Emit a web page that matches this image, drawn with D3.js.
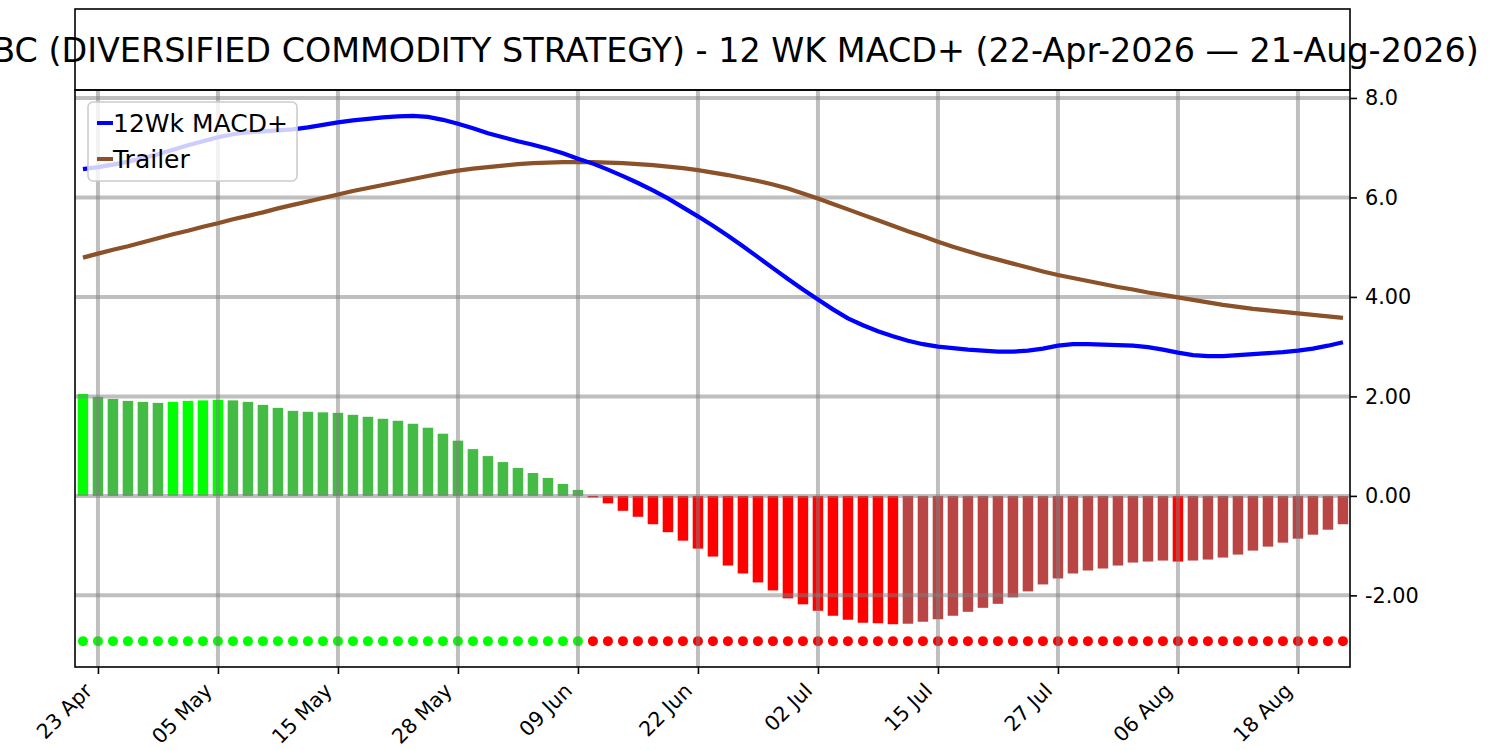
<!DOCTYPE html>
<html>
<head>
<meta charset="utf-8">
<script src="https://cdn.jsdelivr.net/npm/d3@7"></script>
<style>
body{margin:0;background:#fff;}
text{font-family:"DejaVu Sans",sans-serif;fill:#000;}
</style>
</head>
<body>
<div id="chart"></div>
<script>
// trading days shown on the chart
var dates = [
	"2026-04-22","2026-04-23","2026-04-24","2026-04-27","2026-04-28","2026-04-29","2026-04-30","2026-05-01",
	"2026-05-04","2026-05-05","2026-05-06","2026-05-07","2026-05-08","2026-05-11","2026-05-12","2026-05-13",
	"2026-05-14","2026-05-15","2026-05-18","2026-05-19","2026-05-20","2026-05-21","2026-05-22","2026-05-26",
	"2026-05-27","2026-05-28","2026-05-29","2026-06-01","2026-06-02","2026-06-03","2026-06-04","2026-06-05",
	"2026-06-08","2026-06-09","2026-06-10","2026-06-11","2026-06-12","2026-06-15","2026-06-16","2026-06-17",
	"2026-06-18","2026-06-22","2026-06-23","2026-06-24","2026-06-25","2026-06-26","2026-06-29","2026-06-30",
	"2026-07-01","2026-07-02","2026-07-06","2026-07-07","2026-07-08","2026-07-09","2026-07-10","2026-07-13",
	"2026-07-14","2026-07-15","2026-07-16","2026-07-17","2026-07-20","2026-07-21","2026-07-22","2026-07-23",
	"2026-07-24","2026-07-27","2026-07-28","2026-07-29","2026-07-30","2026-07-31","2026-08-03","2026-08-04",
	"2026-08-05","2026-08-06","2026-08-07","2026-08-10","2026-08-11","2026-08-12","2026-08-13","2026-08-14",
	"2026-08-17","2026-08-18","2026-08-19","2026-08-20","2026-08-21"];

var histogram = [
	2.05,1.99,1.95,1.91,1.89,1.87,1.89,1.91,1.92,1.93,1.92,1.89,1.83,1.77,1.71,1.69,1.68,1.67,1.63,1.59,
	1.55,1.51,1.45,1.37,1.25,1.11,0.94,0.80,0.68,0.56,0.46,0.36,0.24,0.12,-0.03,-0.15,-0.30,-0.42,-0.57,-0.73,
	-0.90,-1.06,-1.22,-1.40,-1.56,-1.74,-1.90,-2.06,-2.18,-2.31,-2.41,-2.49,-2.55,-2.56,-2.58,-2.57,-2.53,-2.48,-2.41,-2.33,
	-2.25,-2.17,-2.04,-1.92,-1.78,-1.66,-1.56,-1.50,-1.46,-1.40,-1.34,-1.32,-1.30,-1.32,-1.30,-1.28,-1.24,-1.18,-1.10,-1.02,
	-0.94,-0.86,-0.78,-0.68,-0.57];

var macd = [
	6.57,6.61,6.66,6.72,6.79,6.87,6.96,7.05,7.13,7.21,7.27,7.31,7.33,7.35,7.37,7.41,7.46,7.51,7.55,7.58,
	7.61,7.63,7.64,7.62,7.56,7.48,7.39,7.29,7.21,7.13,7.06,6.98,6.89,6.78,6.68,6.56,6.43,6.29,6.14,5.98,
	5.80,5.62,5.43,5.23,5.02,4.80,4.58,4.36,4.15,3.95,3.75,3.57,3.43,3.31,3.21,3.12,3.05,3.00,2.97,2.94,
	2.92,2.90,2.90,2.92,2.96,3.02,3.05,3.05,3.04,3.03,3.02,2.99,2.94,2.88,2.83,2.81,2.81,2.83,2.85,2.87,
	2.89,2.92,2.96,3.02,3.09];

var trailer = [
	4.79,4.87,4.95,5.02,5.10,5.18,5.26,5.33,5.41,5.48,5.56,5.63,5.70,5.78,5.85,5.92,5.99,6.06,6.13,6.19,
	6.25,6.31,6.37,6.43,6.49,6.54,6.58,6.61,6.64,6.67,6.69,6.70,6.71,6.71,6.71,6.70,6.69,6.67,6.65,6.62,
	6.59,6.55,6.50,6.45,6.39,6.33,6.26,6.18,6.08,5.98,5.87,5.76,5.65,5.54,5.43,5.32,5.22,5.11,5.01,4.92,
	4.83,4.75,4.67,4.59,4.51,4.44,4.38,4.32,4.26,4.20,4.15,4.09,4.04,3.99,3.94,3.89,3.84,3.80,3.76,3.73,
	3.70,3.67,3.64,3.61,3.58];

var signalLevel = -2.92;
var xTickIndex = [1,9,17,25,33,41,49,57,65,73,81];
var yTicks = [-2,0,2,4,6,8];
var yTickLabels = ["-2.00","0.00","2.00","4.00","6.0","8.0"];
var seriesNames = ["12Wk MACD+","Trailer"];
var titleText = "PDBC (DIVERSIFIED COMMODITY STRATEGY) - 12 WK MACD+ (22-Apr-2026 \u2014 21-Aug-2026)";


var width = 1500, height = 750;
var plot = {left: 75, right: 1350, top: 90, bottom: 667};
var colors = {macd: "#0000ff", trailer: "#8b5129",
	upPos: "#00ff00", downPos: "#44bb44", downNeg: "#ff0000", upNeg: "#b94545"};

var svg = d3.select("#chart").append("svg")
	.attr("width", width)
	.attr("height", height);

var x = d3.scaleLinear().domain([-0.53, dates.length - 0.53]).range([plot.left, plot.right]);
var y = d3.scaleLinear().domain([-3.44, 8.16]).range([plot.bottom, plot.top]);

svg.append("clipPath").attr("id", "plotclip")
	.append("rect")
	.attr("x", plot.left).attr("y", plot.top)
	.attr("width", plot.right - plot.left).attr("height", plot.bottom - plot.top);

var inner = svg.append("g").attr("clip-path", "url(#plotclip)");

//histogram bars, colour from sign and direction
var barW = x(0.7) - x(0);
function barColor(v, i){
	var prev = i > 0 ? histogram[i-1] : -Infinity;
	var rising = v >= prev;
	if (v >= 0) return rising ? colors.upPos : colors.downPos;
	return rising ? colors.upNeg : colors.downNeg;
}

inner.selectAll("rect.bar")
	.data(histogram)
	.enter()
	.append("rect")
	.attr("class", "bar")
	.attr("x", function(d, i){ return x(i) - barW/2; })
	.attr("y", function(d){ return y(Math.max(0, d)); })
	.attr("width", barW)
	.attr("height", function(d){ return Math.abs(y(d) - y(0)); })
	.style("fill", barColor);

//signal dots
inner.selectAll("circle.sig")
	.data(macd)
	.enter()
	.append("circle")
	.attr("class", "sig")
	.attr("cx", function(d, i){ return x(i); })
	.attr("cy", y(signalLevel))
	.attr("r", 5)
	.style("fill", function(d, i){ return d > trailer[i] ? colors.upPos : colors.downNeg; });

//grid sits above bars, below lines
var grid = inner.append("g");
grid.selectAll("line.gx")
	.data(xTickIndex)
	.enter()
	.append("line")
	.attr("x1", function(d){ return x(d); })
	.attr("x2", function(d){ return x(d); })
	.attr("y1", plot.top).attr("y2", plot.bottom);
grid.selectAll("line.gy")
	.data(yTicks)
	.enter()
	.append("line")
	.attr("y1", function(d){ return y(d); })
	.attr("y2", function(d){ return y(d); })
	.attr("x1", plot.left).attr("x2", plot.right);
grid.selectAll("line")
	.style("stroke", "#808080")
	.style("stroke-opacity", 0.5)
	.style("stroke-width", 4);

var line = d3.line()
	.x(function(d, i){ return x(i); })
	.y(function(d){ return y(d); });

inner.append("path").datum(trailer)
	.attr("d", line)
	.style("fill", "none").style("stroke", colors.trailer).style("stroke-width", 4.2);
inner.append("path").datum(macd)
	.attr("d", line)
	.style("fill", "none").style("stroke", colors.macd).style("stroke-width", 4.2);

//axes
var parse = d3.timeParse("%Y-%m-%d");
var fmt = d3.timeFormat("%d %b");

var xAxis = svg.append("g")
	.attr("transform", "translate(0," + plot.bottom + ")")
	.call(d3.axisBottom(x)
		.tickValues(xTickIndex)
		.tickFormat(function(i){ return fmt(parse(dates[i])); })
		.tickSize(7));
xAxis.select(".domain").remove();
xAxis.selectAll("text")
	.attr("x", 0).attr("y", 0).attr("dy", 0)
	.attr("transform", "translate(-5,25) rotate(-45)")
	.style("text-anchor", "end")
	.style("font-size", "20.5px");

var yAxis = svg.append("g")
	.attr("transform", "translate(" + plot.right + ",0)")
	.call(d3.axisRight(y)
		.tickValues(yTicks)
		.tickFormat(function(d, i){ return yTickLabels[i]; })
		.tickSize(7)
		.tickPadding(8));
yAxis.select(".domain").remove();
yAxis.selectAll("text").style("font-size", "20.8px");

svg.selectAll(".tick line").style("stroke", "#000").style("stroke-width", 1.6);
svg.selectAll(".tick text").style("font-family", "DejaVu Sans").style("fill", "#000");

//frame
svg.append("rect")
	.attr("x", plot.left).attr("y", plot.top)
	.attr("width", plot.right - plot.left).attr("height", plot.bottom - plot.top)
	.style("fill", "none").style("stroke", "#000").style("stroke-width", 1.6);

//title box, the long title spills past it like in the original
svg.append("rect")
	.attr("x", plot.left).attr("y", 9)
	.attr("width", plot.right - plot.left).attr("height", plot.top - 9)
	.style("fill", "none").style("stroke", "#000").style("stroke-width", 1.6);
svg.append("text")
	.attr("x", (plot.left + plot.right)/2)
	.attr("y", 50)
	.attr("dominant-baseline", "central")
	.style("text-anchor", "middle")
	.style("font-size", "33.4px")
	.text(titleText);

//legend
var legend = svg.append("g").attr("transform", "translate(88,102)");
legend.append("rect")
	.attr("width", 209).attr("height", 79)
	.attr("rx", 5)
	.style("fill", "#fff").style("fill-opacity", 0.8)
	.style("stroke", "#cccccc").style("stroke-width", 1.6);
var items = legend.selectAll("g.item")
	.data(seriesNames)
	.enter()
	.append("g")
	.attr("transform", function(d, i){ return "translate(0," + (21 + i*36) + ")"; });
items.append("line")
	.attr("x1", 9).attr("x2", 25)
	.style("stroke", function(d, i){ return i == 0 ? colors.macd : colors.trailer; })
	.style("stroke-width", 4);
items.append("text")
	.attr("x", 25)
	.attr("dy", "0.36em")
	.style("font-size", "25px")
	.text(function(d){ return d; });
</script>
</body>
</html>
